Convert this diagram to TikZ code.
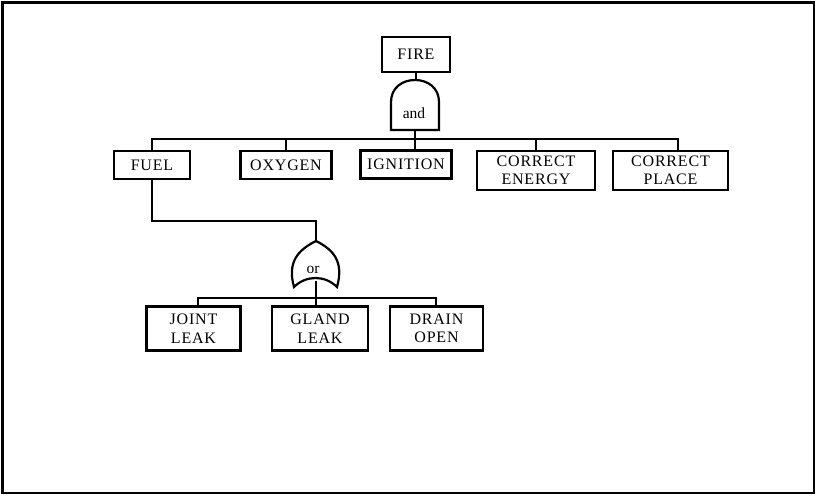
\documentclass[tikz,border=0pt]{standalone}
\usepackage{fontspec}
\setmainfont{Liberation Serif}[LetterSpace=5]
\newfontfamily\gatefont{Liberation Serif}
\begin{document}
\begin{tikzpicture}[x=1pt,y=-1pt,
  box/.style={draw, line width=2.4pt, fill=white, inner sep=0pt, align=center,
    font=\fontsize{16}{18.5}\selectfont},
  wire/.style={line width=2.8pt, line join=miter},
  gate/.style={draw, line width=2.2pt, fill=white},
  gatetext/.style={inner sep=0pt, font=\gatefont\fontsize{15.5}{18}\selectfont}]
\useasboundingbox (0,0) rectangle (817,496);
\draw[line width=2.2pt] (2.5,2.5) rectangle (814,493);

% boxes
\node[box, minimum width=68pt, minimum height=35pt] (fire) at (416,54.5) {FIRE};
\node[box, minimum width=76pt, minimum height=28pt] (fuel) at (152,165) {FUEL};
\node[box, minimum width=91pt, minimum height=28pt] (oxy) at (286,165) {OXYGEN};
\node[box, minimum width=91pt, minimum height=28pt] (ign) at (406,164.5) {IGNITION};
\node[box, minimum width=118pt, minimum height=39pt] (energy) at (536,170.5) {CORRECT\\ENERGY};
\node[box, minimum width=115pt, minimum height=39pt] (place) at (670.5,170.5) {CORRECT\\PLACE};
\node[box, minimum width=94pt, minimum height=44pt] (joint) at (193.5,328.5) {JOINT\\LEAK};
\node[box, minimum width=96pt, minimum height=44pt] (gland) at (320,328.5) {GLAND\\LEAK};
\node[box, minimum width=93pt, minimum height=44pt] (drain) at (436.5,328.5) {DRAIN\\OPEN};

% gate terminals
\coordinate (andtop) at (415,80);
\coordinate (andbot) at (415,130);
\coordinate (ortop) at (316,241);
\coordinate (orbot) at (316,281);
\coordinate (bus1L) at (152,139);
\coordinate (bus1R) at (678,139);
\coordinate (orin) at (316,221);
\coordinate (bus2L) at (198,298);
\coordinate (bus2R) at (436,298);

% wires
\draw[wire] (fire.south) -- (fire.south |- andtop);
\draw[wire] (andbot) -- (andbot |- ign.north);
\draw[wire] (fuel.north) -- (bus1L) -- (bus1R) -- (bus1R |- place.north);
\draw[wire] (oxy.north) -- (oxy.north |- bus1L);
\draw[wire] (energy.north) -- (energy.north |- bus1L);
\draw[wire] (fuel.south) |- (orin) -- (ortop);
\draw[wire] (bus2L |- joint.north) -- (bus2L) -- (bus2R) -- (bus2R |- drain.north);
\draw[wire] (orbot) -- (orbot |- gland.north);

% gates
\draw[gate] (391,130) -- (391,102) .. controls (391,88) and (402,80) .. (415,80)
  .. controls (428,80) and (439,88) .. (439,102) -- (439,130) -- cycle;
\node[gatetext] (andg) at (414,113) {and};
\draw[gate] (294,287) .. controls (287,262) and (298,250) .. (316,241)
  .. controls (334,250) and (344,262) .. (337,287)
  .. controls (325,275) and (306,275) .. (294,287) -- cycle;
\node[gatetext] (org) at (313,270) {or};
\end{tikzpicture}
\end{document}
